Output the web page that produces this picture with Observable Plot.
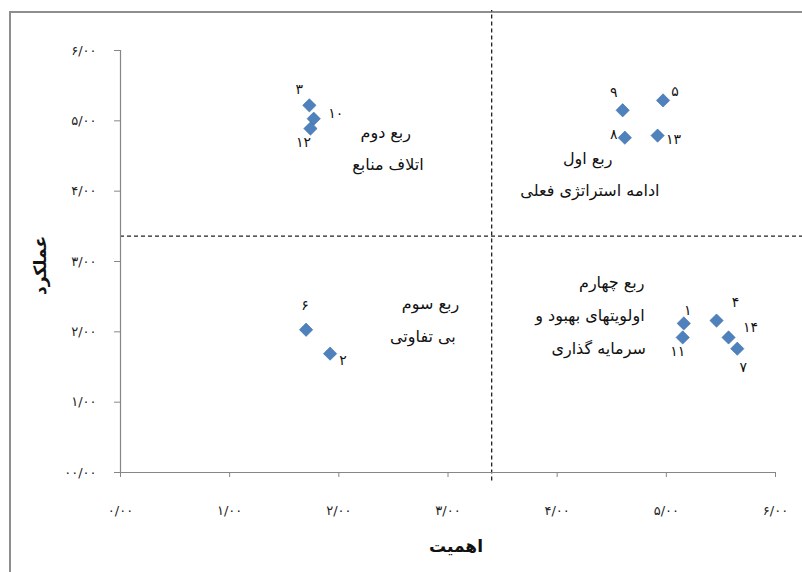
<!DOCTYPE html>
<html><head><meta charset="utf-8">
<script src="https://cdn.jsdelivr.net/npm/d3@7"></script>
<script src="https://cdn.jsdelivr.net/npm/@observablehq/plot@0.6"></script>
<style>
html,body{margin:0;padding:0;background:#fff;}
#wrap{position:relative;width:802px;height:572px;overflow:hidden;}
#frame{position:absolute;left:9px;top:11px;width:820px;height:600px;border:2px solid #8e8e8e;box-sizing:border-box;}
#chart{position:absolute;left:0;top:0;}
</style></head><body>
<div id="wrap"><div id="frame"></div><div id="chart"></div></div>
<script>
// point data
const pointLabels = ["۳","۱۰","۱۲","۹","۵","۸","۱۳","۱","۱۱","۴","۱۴","۷","۶","۲"];
const importance  = [1.73,1.77,1.74,4.60,4.97,4.62,4.92,5.16,5.15,5.46,5.57,5.65,1.70,1.92];
const performance = [5.22,5.03,4.89,5.15,5.29,4.76,4.79,2.12,1.92,2.16,1.92,1.76,2.03,1.69];

// quadrant dividers
const importanceCut = 3.4;
const performanceCut = 3.36;

// quadrant annotations
const quadLines = ["ربع دوم","اتلاف منابع","ربع اول","ادامه استراتژی فعلی","ربع سوم","بی تفاوتی","ربع چهارم","اولویتهای بهبود و","سرمایه گذاری"];
const quadX = [2.43,2.45,4.28,4.30,2.84,2.77,4.50,4.30,4.38];
const quadY = [4.83,4.38,4.46,4.01,2.40,1.93,2.69,2.23,1.76];

// ticks
const xTicks = [0,1,2,3,4,5,6];
const xTickLabels = ["۰/۰۰","۱/۰۰","۲/۰۰","۳/۰۰","۴/۰۰","۵/۰۰","۶/۰۰"];
const yTicks = [0,1,2,3,4,5,6];
const yTickLabels = ["۰۰/۰۰","۱/۰۰","۲/۰۰","۳/۰۰","۴/۰۰","۵/۰۰","۶/۰۰"];
const xTitle = "اهمیت";
const yTitle = "عملکرد";

// label placement (pixel offsets of each number relative to its marker)
const labelOffsets = [[-10,-16],[22,-5],[-7,14],[-9,-18],[12,-9],[-11,-3],[16,4],[4,-13],[-5,14],[19,-18],[22,-10],[6,19],[-1,-24],[13,7]];

const points = pointLabels.map((l,i)=>({label:l, x:importance[i], y:performance[i]}));
const quads = quadLines.map((t,i)=>({t, x:quadX[i], y:quadY[i]}));

const font = "DejaVu Sans, sans-serif";
const axisGray = "#868686";

const chart = Plot.plot({
  width: 802, height: 572,
  marginLeft: 120, marginRight: 27, marginTop: 50, marginBottom: 100,
  style: {background:"transparent", fontFamily: font, overflow:"visible"},
  x: {domain:[0,6], axis:null},
  y: {domain:[0,6], axis:null},
  marks: [
    Plot.ruleX([importanceCut], {y1:-0.12, y2:6.57, stroke:"#222", strokeWidth:1.3, strokeDasharray:"4,3"}),
    Plot.ruleY([performanceCut], {x1:0, x2:6.25, stroke:"#222", strokeWidth:1.3, strokeDasharray:"4,3"}),
    Plot.ruleX([0], {y1:0, y2:6, stroke:axisGray, strokeWidth:1.2}),
    Plot.ruleY([0], {x1:0, x2:6, stroke:axisGray, strokeWidth:1.2}),
    Plot.axisX({ticks:xTicks, tickFormat:d=>xTickLabels[xTicks.indexOf(d)], tickSize:5, tickPadding:28, stroke:axisGray, fontSize:13, label:null, fill:"#222"}),
    Plot.axisY({ticks:yTicks, tickFormat:d=>yTickLabels[yTicks.indexOf(d)], tickSize:6, tickPadding:18, stroke:axisGray, fontSize:13, label:null, fill:"#222"}),
    Plot.dot(points, {x:"x", y:"y", symbol:"diamond2", r:6, fill:"#4F81BD", stroke:"#3C6DA8", strokeWidth:0.6}),
    ...points.map((p,i)=>Plot.text([p], {x:"x", y:"y", text:"label", dx:labelOffsets[i][0], dy:labelOffsets[i][1], fontSize:14, fill:"#111"})),
    Plot.text(quads, {x:"x", y:"y", text:"t", fontSize:16, fill:"#111", textAnchor:"middle"}),
    Plot.text([xTitle], {frameAnchor:"bottom", textAnchor:"middle", dx:8, dy:79, fontSize:17, fontWeight:"bold", fill:"#111"}),
    Plot.text([yTitle], {frameAnchor:"left", textAnchor:"middle", lineAnchor:"middle", dx:-80, dy:4, rotate:-90, fontSize:17, fontWeight:"bold", fill:"#111"})
  ]
});
document.getElementById("chart").appendChild(chart);
</script>
</body></html>
